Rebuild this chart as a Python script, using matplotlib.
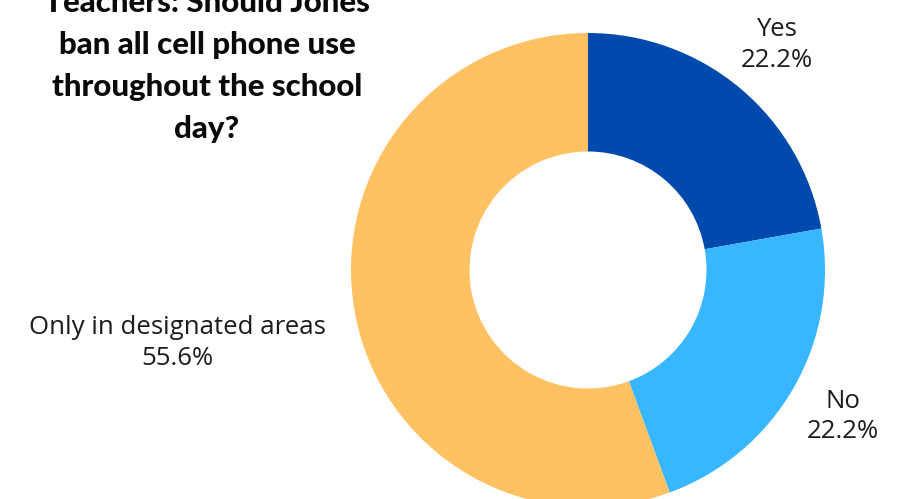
import numpy as np
import matplotlib
matplotlib.use("Agg")
import matplotlib.pyplot as plt
from matplotlib import font_manager
from matplotlib.font_manager import FontProperties

categories = ["Yes", "No", "Only in designated areas"]
values = [22.2, 22.2, 55.6]
colors = ["#004AAD", "#38B6FF", "#FFC162"]
title_lines = ["Teachers: Should Jones", "ban all cell phone use", "throughout the school", "day?"]


def find_file(family, keys, avoid=()):
    for f in font_manager.fontManager.ttflist:
        base = f.fname.split("/")[-1].lower()
        if f.name == family and all(k in base for k in keys) and not any(a in base for a in avoid):
            return f.fname
    return None


lab_file = (find_file("Montserrat", ["regular"], ["italic"])
            or find_file("Open Sans", ["regular"], ["italic", "condensed", "semi"]))
ttl_file = (find_file("Lato", ["black"], ["italic"])
            or find_file("Lato", ["heavy"], ["italic"]))

label_fp = FontProperties(fname=lab_file, size=18.5) if lab_file else FontProperties(family="Open Sans", size=18.5)
title_fp = FontProperties(fname=ttl_file, size=22.5) if ttl_file else FontProperties(family="Lato", weight="black", size=22.5)

W, H = 901, 499
fig = plt.figure(figsize=(W / 100, H / 100), dpi=100)
fig.patch.set_facecolor("white")

cx, cy, R = 588, 499 - 270, 237
ax = fig.add_axes([(cx - R) / W, (cy - R) / H, 2 * R / W, 2 * R / H])

wedges, _ = ax.pie(values, colors=colors, startangle=90, counterclock=False,
                   radius=1, wedgeprops=dict(width=0.5, edgecolor="none"))
ax.set_xlim(-1, 1)
ax.set_ylim(-1, 1)
ax.set_aspect("equal")
ax.axis("off")

dists = [1.24, 1.24, 1.76]
for w, cat, val, d in zip(wedges, categories, values, dists):
    ang = np.deg2rad((w.theta1 + w.theta2) / 2)
    x, y = d * np.cos(ang), d * np.sin(ang)
    ax.text(x, y, f"{cat}\n{val:.1f}%", ha="center", va="center",
            fontproperties=label_fp, color="#1c1c1c",
            linespacing=1.3, clip_on=False)

fig.text(207 / W, 1 - 66 / H, "\n".join(title_lines), ha="center", va="center",
         fontproperties=title_fp, color="#0a0a0a", linespacing=1.6)

fig.savefig("out.png", dpi=100, facecolor="white")
